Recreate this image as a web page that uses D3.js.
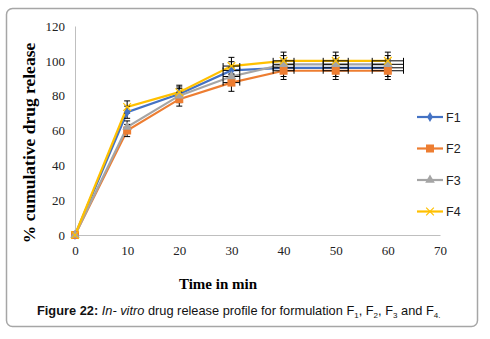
<!DOCTYPE html>
<html>
<head>
<meta charset="utf-8">
<script src="https://cdn.jsdelivr.net/npm/d3@7"></script>
<style>
  body { margin: 0; background: #fff; }
  svg { display: block; }
</style>
</head>
<body>
<div id="chart"></div>
<script>
// data
const times = [0, 10, 20, 30, 40, 50, 60];
const seriesNames = ["F1", "F2", "F3", "F4"];
const f1 = [0, 70.5, 81, 94.5, 96, 96, 96];
const f2 = [0, 60, 78, 87.5, 94.3, 94.3, 94.3];
const f3 = [0, 62, 80, 91, 98, 98, 98];
const f4 = [0, 73.5, 82, 97, 100, 100, 100];
const yErr = [0, 3.5, 4, 5, 5, 5, 5];
const xErr = [0, 0, 0, 1.6, 2, 2.4, 3];
const xTicks = [0, 10, 20, 30, 40, 50, 60, 70];
const yTicks = [0, 20, 40, 60, 80, 100, 120];
const colors = ["#4472C4", "#ED7D31", "#A5A5A5", "#FFC000"];

const allSeries = [f1, f2, f3, f4];

const width = 490, height = 339;

const svg = d3.select("#chart").append("svg")
  .attr("width", width)
  .attr("height", height);

// rounded frame
svg.append("rect")
  .attr("x", 6.5).attr("y", 8.5)
  .attr("width", 471).attr("height", 318)
  .attr("rx", 6)
  .attr("fill", "none")
  .attr("stroke", "#a6a6a6")
  .attr("stroke-width", 1.5);

const x = d3.scaleLinear().domain([0, 70]).range([75, 440]);
const y = d3.scaleLinear().domain([0, 120]).range([235, 26]);

// axes
svg.append("g")
  .attr("transform", "translate(0," + y(0) + ")")
  .call(d3.axisBottom(x).tickValues(xTicks).tickSize(0).tickPadding(11))
  .call(g => g.select(".domain").attr("stroke", "#bfbfbf"))
  .call(g => g.selectAll("text").attr("font-family", "Liberation Serif").attr("font-size", 13).attr("fill", "#222"));

svg.append("g")
  .attr("transform", "translate(" + x(0) + ",0)")
  .call(d3.axisLeft(y).tickValues(yTicks).tickSize(0).tickPadding(10))
  .call(g => g.select(".domain").attr("stroke", "#bfbfbf"))
  .call(g => g.selectAll("text").attr("font-family", "Liberation Serif").attr("font-size", 13).attr("fill", "#222"));

// axis titles
svg.append("text")
  .attr("transform", "translate(35,143) rotate(-90)")
  .attr("text-anchor", "middle")
  .attr("font-family", "Liberation Serif")
  .attr("font-weight", "bold")
  .attr("font-size", 17.5)
  .text("% cumulative drug release");

svg.append("text")
  .attr("x", 218).attr("y", 289)
  .attr("text-anchor", "middle")
  .attr("font-family", "Liberation Serif")
  .attr("font-weight", "bold")
  .attr("font-size", 15)
  .text("Time in min");

// caption
const cap = svg.append("text")
  .attr("x", 37).attr("y", 315)
  .attr("font-family", "Liberation Sans")
  .attr("font-size", 12.8)
  .attr("fill", "#111");
cap.append("tspan").attr("font-weight", "bold").text("Figure 22: ");
cap.append("tspan").attr("font-style", "italic").text("In- vitro");
cap.append("tspan").text(" drug release profile for formulation F");
cap.append("tspan").attr("font-size", 8).attr("dy", 3).text("1");
cap.append("tspan").attr("dy", -3).text(", F");
cap.append("tspan").attr("font-size", 8).attr("dy", 3).text("2");
cap.append("tspan").attr("dy", -3).text(", F");
cap.append("tspan").attr("font-size", 8).attr("dy", 3).text("3");
cap.append("tspan").attr("dy", -3).text(" and F");
cap.append("tspan").attr("font-size", 8).attr("dy", 3).text("4");
cap.append("tspan").attr("font-size", 8).text(".");

const line = d3.line()
  .x((d, i) => x(times[i]))
  .y(d => y(d));

// lines
allSeries.forEach((vals, s) => {
  svg.append("path")
    .datum(vals)
    .attr("fill", "none")
    .attr("stroke", colors[s])
    .attr("stroke-width", 2.2)
    .attr("d", line);
});

// error bars
const eb = svg.append("g").attr("stroke", "#000").attr("stroke-width", 1);
allSeries.forEach((vals, s) => {
  vals.forEach((v, i) => {
    const cx = x(times[i]), cy = y(v);
    if (yErr[i] > 0) {
      eb.append("line").attr("x1", cx).attr("x2", cx).attr("y1", y(v - yErr[i])).attr("y2", y(v + yErr[i]));
      [v - yErr[i], v + yErr[i]].forEach(e => {
        eb.append("line").attr("x1", cx - 3).attr("x2", cx + 3).attr("y1", y(e)).attr("y2", y(e));
      });
    }
    if (xErr[i] > 0) {
      eb.append("line").attr("x1", x(times[i] - xErr[i])).attr("x2", x(times[i] + xErr[i])).attr("y1", cy).attr("y2", cy);
      [times[i] - xErr[i], times[i] + xErr[i]].forEach(e => {
        eb.append("line").attr("x1", x(e)).attr("x2", x(e)).attr("y1", cy - 3).attr("y2", cy + 3);
      });
    }
  });
});

// markers
function drawMarker(g, s, cx, cy) {
  const c = colors[s];
  if (s === 0) {
    g.append("path").attr("d", d3.symbol(d3.symbolDiamond, 30)()).attr("transform", "translate(" + cx + "," + cy + ")").attr("fill", c);
  } else if (s === 1) {
    g.append("rect").attr("x", cx - 4).attr("y", cy - 4).attr("width", 8).attr("height", 8).attr("fill", c);
  } else if (s === 2) {
    g.append("path").attr("d", d3.symbol(d3.symbolTriangle, 40)()).attr("transform", "translate(" + cx + "," + cy + ")").attr("fill", c);
  } else {
    g.append("path").attr("d", d3.symbol(d3.symbolX, 40)()).attr("transform", "translate(" + cx + "," + cy + ")")
      .attr("fill", "none").attr("stroke", c).attr("stroke-width", 1.2);
  }
}

const mk = svg.append("g");
allSeries.forEach((vals, s) => {
  vals.forEach((v, i) => drawMarker(mk, s, x(times[i]), y(v)));
});

// legend
const legend = svg.append("g");
seriesNames.forEach((name, s) => {
  const ly = 117 + s * 31.5;
  legend.append("line").attr("x1", 417).attr("x2", 443).attr("y1", ly).attr("y2", ly)
    .attr("stroke", colors[s]).attr("stroke-width", 2.2);
  drawMarker(legend, s, 430, ly);
  legend.append("text").attr("x", 446).attr("y", ly + 4.5)
    .attr("font-family", "Liberation Sans").attr("font-size", 12.5).attr("fill", "#222")
    .text(name);
});
</script>
</body>
</html>
